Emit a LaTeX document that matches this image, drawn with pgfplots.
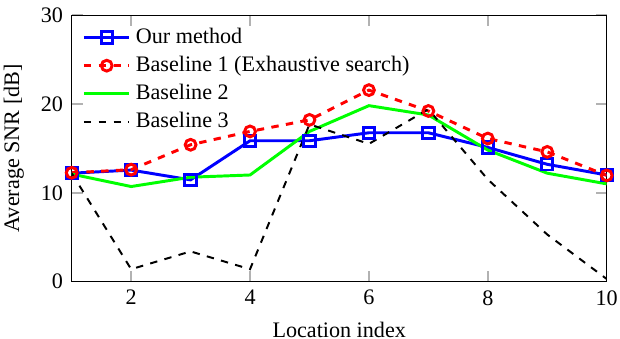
\documentclass[border=0pt]{standalone}
\usepackage{fontspec}
\setmainfont{Liberation Serif}
\usepackage{pgfplots}
\pgfplotsset{compat=1.18}
\begin{document}
\begin{tikzpicture}[font=\fontsize{9}{10.8}\selectfont]
\begin{axis}[
  name=ax,
  scale only axis,
  width=217.5pt, height=108.4pt,
  xmin=1, xmax=10, ymin=0, ymax=30,
  xtick={2,4,6,8,10}, ytick={0,10,20,30},
  /pgf/number format/assume math mode=true,
  tick style={gray!60, line width=0.6pt},
  major tick length=4.5pt,
  xlabel={Location index},
  ylabel={Average SNR [dB]},
  legend style={draw=none, fill=none, at={(0.0055,0.99)}, anchor=north west, font=\fontsize{9}{10.8}\selectfont, row sep=-0.3pt},
  legend cell align=left,
  legend image code/.code={\draw[mark repeat=2,mark phase=2,#1] plot coordinates {(0cm,0cm) (0.325cm,0cm) (0.65cm,0cm)};},
]
\addplot[blue, line width=1.2pt, mark=square, mark size=2.3pt, mark options={solid}]
  coordinates {(1,12.2) (2,12.55) (3,11.45) (4,15.85) (5,15.85) (6,16.75) (7,16.75) (8,15.1) (9,13.2) (10,12.0)};
\addlegendentry{Our method}
\addplot[red, line width=1.2pt, dashed, mark=o, mark size=2.2pt, mark options={solid}]
  coordinates {(1,12.25) (2,12.6) (3,15.4) (4,16.9) (5,18.2) (6,21.55) (7,19.2) (8,16.1) (9,14.6) (10,11.95)};
\addlegendentry{Baseline 1 (Exhaustive search)}
\addplot[green, line width=1.2pt]
  coordinates {(1,12.1) (2,10.7) (3,11.75) (4,12.0) (5,16.9) (6,19.8) (7,18.75) (8,14.8) (9,12.2) (10,11.0)};
\addlegendentry{Baseline 2}
\addplot[black, line width=0.8pt, dashed]
  coordinates {(1,12.2) (2,1.4) (3,3.4) (4,1.4) (5,17.7) (6,15.5) (7,19.4) (8,11.5) (9,5.3) (10,0.3)};
\addlegendentry{Baseline 3}
\end{axis}
\pgfresetboundingbox
\path[use as bounding box] ([shift={(-29.15pt,-23.2pt)}]ax.south west) rectangle ([shift={(5.4pt,6.1pt)}]ax.north east);
\end{tikzpicture}
\end{document}
